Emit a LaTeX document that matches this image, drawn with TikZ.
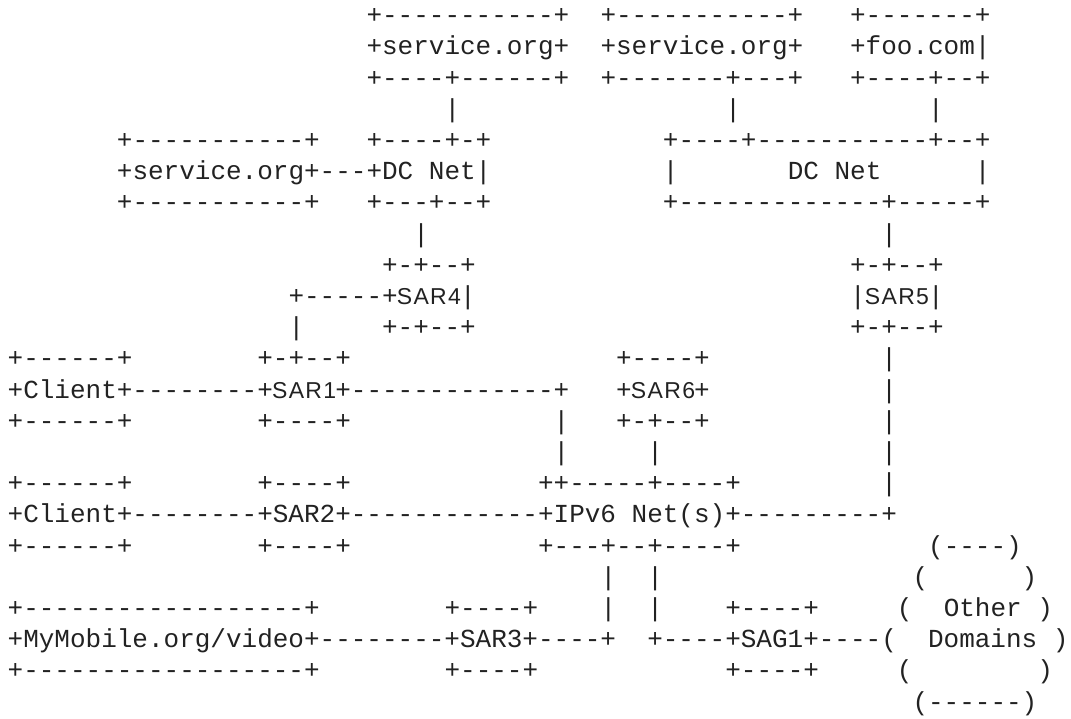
\documentclass[tikz,border=0pt]{standalone}
\usepackage{fontspec}
\newfontfamily\artfont{Liberation Mono}
\newfontfamily\labelfont{Liberation Sans}[LetterSpace=6]
\definecolor{ink}{HTML}{222222}
% one character cell of the monospaced drawing
\newdimen\cw \cw=15.6pt
\newcommand\blank[1]{\hspace*{#1\cw}}
% a four-cell router label set in the proportional face
\newcommand\slot[1]{\makebox[4\cw][c]{\labelfont\fontsize{23}{28}\selectfont #1}}
\tikzset{
  artline/.style={anchor=base west, inner sep=0pt, outer sep=0pt, text=ink,
    font=\artfont\fontsize{26}{31.2}\selectfont},
}
% \artrow{name}{first column}{row}{text}
\newcommand\artrow[4]{\node[artline] (#1) at ({7.7pt+#2*15.6pt},{-23.6pt-#3*31.2pt}) {#4};}
\begin{document}
\begin{tikzpicture}
\fill[white] (0,0) rectangle (1071pt,-718pt);
\useasboundingbox (0,0) rectangle (1071pt,-718pt);
\artrow{r0}{23}{0}{+-----------+\blank{2}+-----------+\blank{3}+-------+}
\artrow{r1}{23}{1}{+service.org+\blank{2}+service.org+\blank{3}+foo.com|}
\artrow{r2}{23}{2}{+----+------+\blank{2}+-------+---+\blank{3}+----+--+}
\artrow{r3}{28}{3}{|\blank{17}|\blank{12}|}
\artrow{r4}{7}{4}{+-----------+\blank{3}+----+-+\blank{11}+----+-----------+--+}
\artrow{r5}{7}{5}{+service.org+---+DC Net|\blank{11}|\blank{7}DC Net\blank{6}|}
\artrow{r6}{7}{6}{+-----------+\blank{3}+---+--+\blank{11}+-------------+-----+}
\artrow{r7}{26}{7}{|\blank{29}|}
\artrow{r8}{24}{8}{+-+--+\blank{24}+-+--+}
\artrow{r9}{18}{9}{+-----+\slot{SAR4}|\blank{24}|\slot{SAR5}|}
\artrow{r10}{18}{10}{|\blank{5}+-+--+\blank{24}+-+--+}
\artrow{r11}{0}{11}{+------+\blank{8}+-+--+\blank{17}+----+\blank{11}|}
\artrow{r12}{0}{12}{+Client+--------+\slot{SAR1}+-------------+\blank{3}+\slot{SAR6}+\blank{11}|}
\artrow{r13}{0}{13}{+------+\blank{8}+----+\blank{13}|\blank{3}+-+--+\blank{11}|}
\artrow{r14}{35}{14}{|\blank{5}|\blank{14}|}
\artrow{r15}{0}{15}{+------+\blank{8}+----+\blank{12}++-----+----+\blank{9}|}
\artrow{r16}{0}{16}{+Client+--------+SAR2+------------+IPv6 Net(s)+---------+}
\artrow{r17}{0}{17}{+------+\blank{8}+----+\blank{12}+---+--+----+\blank{12}(----)}
\artrow{r18}{38}{18}{|\blank{2}|\blank{16}(\blank{6})}
\artrow{r19}{0}{19}{+------------------+\blank{8}+----+\blank{4}|\blank{2}|\blank{4}+----+\blank{5}(\blank{2}Other )}
\artrow{r20}{0}{20}{+MyMobile.org/video+--------+SAR3+----+\blank{2}+----+SAG1+----(\blank{2}Domains )}
\artrow{r21}{0}{21}{+------------------+\blank{8}+----+\blank{12}+----+\blank{5}(\blank{8})}
\artrow{r22}{58}{22}{(------)}
\end{tikzpicture}
\end{document}
